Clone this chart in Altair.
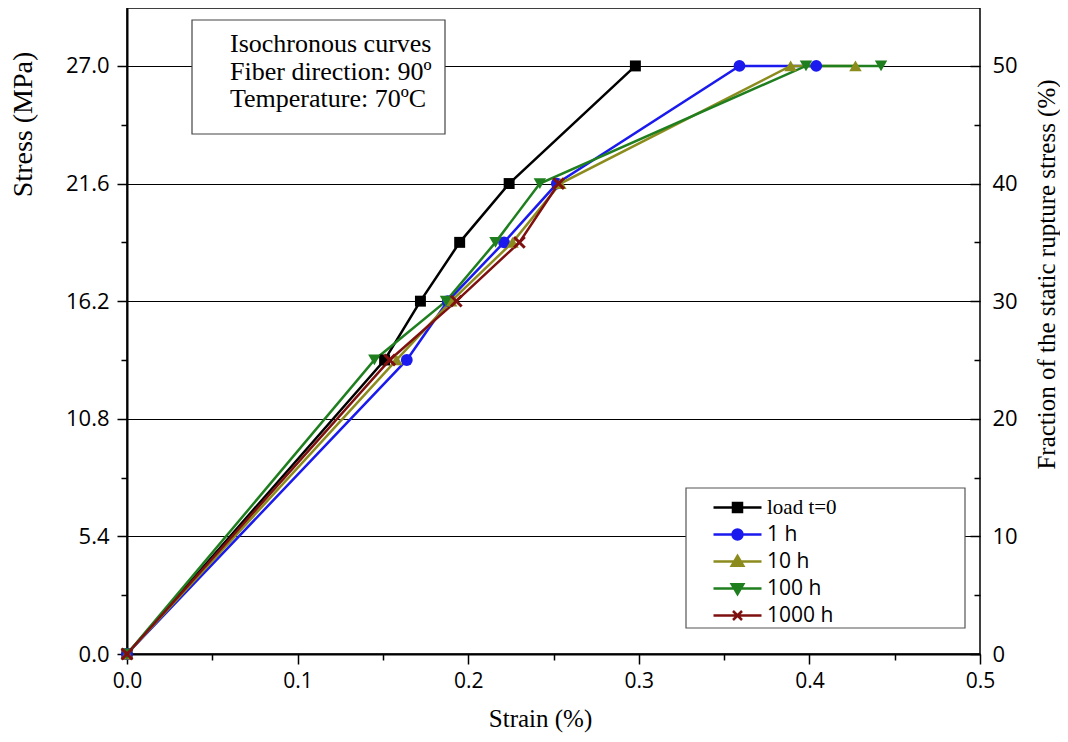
import altair as alt
import pandas as pd

# ---------------- data ----------------
series_names = ["load t=0", "1 h", "10 h", "100 h", "1000 h"]
series_colors = ["#000000", "#1a1aee", "#8c8c1e", "#1f7f1f", "#7f1010"]

strain_t0 = [0.0, 0.151, 0.172, 0.195, 0.224, 0.298]
stress_t0 = [0.0, 13.5, 16.2, 18.9, 21.6, 27.0]
strain_1h = [0.0, 0.164, 0.188, 0.221, 0.252, 0.359, 0.404]
stress_1h = [0.0, 13.5, 16.2, 18.9, 21.6, 27.0, 27.0]
strain_10h = [0.0, 0.158, 0.190, 0.226, 0.254, 0.389, 0.427]
stress_10h = [0.0, 13.5, 16.2, 18.9, 21.6, 27.0, 27.0]
strain_100h = [0.0, 0.145, 0.187, 0.216, 0.242, 0.398, 0.442]
stress_100h = [0.0, 13.5, 16.2, 18.9, 21.6, 27.0, 27.0]
strain_1000h = [0.0, 0.154, 0.193, 0.230, 0.253]
stress_1000h = [0.0, 13.5, 16.2, 18.9, 21.6]

x_tick_values = [0.0, 0.05, 0.1, 0.15, 0.2, 0.25, 0.3, 0.35, 0.4, 0.45, 0.5]
y_tick_values = [0.0, 2.7, 5.4, 8.1, 10.8, 13.5, 16.2, 18.9, 21.6, 24.3, 27.0]
right_tick_values = [0, 5, 10, 15, 20, 25, 30, 35, 40, 45, 50]
STRESS_AT_50 = 27.0  # stress (MPa) that corresponds to 50 % on the right axis

annotation = "Isochronous curves\nFiber direction: 90º\nTemperature: 70ºC"

strains = [strain_t0, strain_1h, strain_10h, strain_100h, strain_1000h]
stresses = [stress_t0, stress_1h, stress_10h, stress_100h, stress_1000h]

rows = []
for name, xs, ys in zip(series_names, strains, stresses):
    for i, (xv, yv) in enumerate(zip(xs, ys)):
        rows.append({"series": name, "strain": xv, "stress": yv, "order": i})
df = pd.DataFrame(rows)
one = pd.DataFrame({"a": [0]})

k = 50 / STRESS_AT_50
df_right = pd.DataFrame({"pos": [f / k for f in right_tick_values]})

# ---------------- scales / axes ----------------
X_PATH = "M-1,-1L1,1M-1,1L1,-1"
point_shapes = ["square", "circle", "triangle-up", "triangle-down", X_PATH]
point_sizes = [120, 140, 155, 155, 115]
legend_shapes = [
    "M-4.8,0H4.8M-0.9,-0.9H0.9V0.9H-0.9Z",
    "M-4.8,0H4.8M1,0A1,1 0 1 1 -1,0A1,1 0 1 1 1,0Z",
    "M-4.8,0H4.8M0,-1.1L1.15,0.85H-1.15Z",
    "M-4.8,0H4.8M0,1.1L1.15,-0.85H-1.15Z",
    "M-4.8,0H4.8M-0.9,-0.9L0.9,0.9M-0.9,0.9L0.9,-0.9",
]

Y_TOP = 29.66
x_scale = alt.Scale(domain=[0, 0.5], nice=False, zero=False)
y_scale = alt.Scale(domain=[0, Y_TOP], nice=False, zero=False)
color_scale = alt.Scale(domain=series_names, range=series_colors)


def cond(test, a, b):
    return {"condition": {"test": test, "value": a}, "value": b}


x_major = "round(datum.value*20) % 2 == 0"
y_major = "round(datum.value/2.7) % 2 == 0"
r_major = f"round(datum.value*{k}) % 10 == 0"

x_axis = alt.Axis(
    values=x_tick_values,
    labelExpr=f"{x_major} ? format(datum.value, '.1f') : ''",
    labelFlush=False,
    tickSize=cond(x_major, 10, 6),
    tickColor="black", tickWidth=1.5,
    domainColor="black", domainWidth=2,
    grid=False,
    labelFont="Open Sans", labelFontSize=21, labelColor="black", labelPadding=6,
    title="Strain (%)", titleFont="Liberation Serif", titleFontSize=25,
    titleFontWeight="normal", titleColor="black",
    titleX=413, titleY=64, titleAlign="center", titleBaseline="middle",
)
y_axis = alt.Axis(
    values=y_tick_values,
    labelExpr=f"{y_major} ? format(datum.value, '.1f') : ''",
    labelFlush=False,
    tickSize=cond(y_major, 10, 6),
    tickColor="black", tickWidth=1.5,
    domainColor="black", domainWidth=2,
    grid=True, gridColor="black", gridWidth=1.2,
    gridOpacity=cond(y_major, 1, 0),
    labelFont="Open Sans", labelFontSize=22, labelColor="black", labelPadding=8,
    title="Stress (MPa)", titleFont="Liberation Serif", titleFontSize=28,
    titleFontWeight="normal", titleColor="black",
    titleAngle=270, titleX=-104, titleY=116, titleAlign="center", titleBaseline="middle",
)
r_axis = alt.Axis(
    orient="right", offset=-10, domain=False,
    values=[f / k for f in right_tick_values],
    labelExpr=f"{r_major} ? format(datum.value*{k}, 'd') : ''",
    labelFlush=False,
    tickSize=10, tickColor="black", tickWidth=1.5,
    tickDash=cond(r_major, [], [0, 4, 6]),
    grid=False,
    labelFont="Open Sans", labelFontSize=22, labelColor="black", labelPadding=12,
    title="Fraction of the static rupture stress (%)",
    titleFont="Liberation Serif", titleFontSize=25, titleFontWeight="normal",
    titleColor="black", titleAngle=270, titleX=76, titleY=266,
    titleAlign="center", titleBaseline="middle",
)

# ---------------- layers ----------------
base = alt.Chart(df)

line_layers = []
point_layers = []
for j, (name, col, shp, sz) in enumerate(zip(series_names, series_colors, point_shapes, point_sizes)):
    sub = base.transform_filter(alt.datum.series == name)
    ln = sub.mark_line(strokeWidth=2.5, color=col).encode(
        x=alt.X("strain:Q", scale=x_scale, axis=x_axis),
        y=alt.Y("stress:Q", scale=y_scale, axis=y_axis if j == 0 else None),
        order="order:Q",
    )
    line_layers.append(ln)
    is_x = shp == X_PATH
    pl = sub.mark_point(
        shape=shp, size=sz, filled=not is_x, color=col, opacity=1,
        strokeWidth=3 if is_x else 1,
    ).encode(
        x=alt.X("strain:Q", scale=x_scale, axis=x_axis),
        y=alt.Y("stress:Q", scale=y_scale, axis=None),
    )
    point_layers.append(pl)

legend_def = alt.Legend(
    title=None, orient="none", legendX=600, legendY=489,
    symbolStrokeWidth=2.5, symbolOpacity=1,
    labelFont={"expr": "datum.label === 'load t=0' ? 'Liberation Serif' : 'Open Sans'"},
    labelFontSize=21, labelColor="black", labelOffset=19,
    rowPadding=5, padding=0, zindex=5,
)
legend_layer = base.mark_point(size=120, strokeWidth=2.5, opacity=0).encode(
    x=alt.X("strain:Q", scale=x_scale, axis=x_axis),
    y=alt.Y("stress:Q", scale=y_scale, axis=None),
    fill=alt.Fill("series:N", scale=color_scale, legend=legend_def),
    stroke=alt.Stroke("series:N", scale=color_scale, legend=legend_def),
    shape=alt.Shape("series:N", scale=alt.Scale(domain=series_names, range=legend_shapes),
                    legend=legend_def),
)

ann_box = alt.Chart(one).mark_rect(fill="white", stroke="#444444", strokeWidth=1.2).encode(
    x=alt.value(65), x2=alt.value(318), y=alt.value(12), y2=alt.value(126)
)
ann_text = alt.Chart(one).mark_text(
    align="left", baseline="alphabetic", font="Liberation Serif", fontSize=26,
    lineBreak="\n", lineHeight=27.5, color="black",
).encode(x=alt.value(103), y=alt.value(44), text=alt.value(annotation))

legend_box = alt.Chart(one).mark_rect(fill="white", stroke="#555555", strokeWidth=1.2).encode(
    x=alt.value(559), x2=alt.value(838), y=alt.value(480), y2=alt.value(620)
)

right = alt.Chart(df_right).mark_point(opacity=0).encode(
    y=alt.Y("pos:Q", scale=y_scale, axis=r_axis)
)

chart = alt.layer(
    *line_layers, *point_layers, ann_box, ann_text, legend_box, legend_layer, right
).resolve_axis(y="independent").properties(
    width=853, height=646,
    padding={"left": 119, "top": 0, "right": 80, "bottom": 80},
    autosize=alt.AutoSizeParams(type="none"),
).configure_view(stroke="black", strokeWidth=1.5)

chart.save("out.html", embed_options={"renderer": "svg", "actions": False})
